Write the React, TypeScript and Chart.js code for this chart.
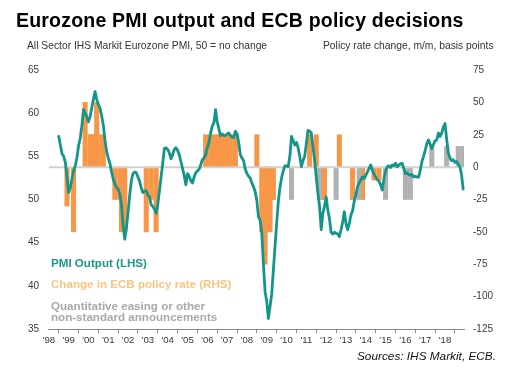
import React, { useEffect, useRef } from 'react';
import { Chart, registerables } from 'chart.js';

Chart.register(...registerables);

// ---------- DATA ----------
const firstYear = 1998;
const yearLabels = ["'98", "'99", "'00", "'01", "'02", "'03", "'04", "'05", "'06", "'07", "'08", "'09", "'10", "'11", "'12", "'13", "'14", "'15", "'16", "'17", "'18"];
const monthCount = 252; // Jan 1998 .. Dec 2018

// All Sector IHS Markit Eurozone PMI, monthly from Jul 1998 (month index 6)
const pmiStartMonth = 6;
const pmi1998 = [57.3, 56.3, 55.3, 55.0, 54.3, 52.6];
const pmi1999 = [50.8, 51.4, 52.4, 53.3, 53.9, 54.8, 56.2, 57.1, 58.5, 60.4, 60.0, 59.6];
const pmi2000 = [59.0, 59.6, 60.6, 61.6, 62.5, 61.6, 61.0, 60.6, 59.7, 58.6, 56.9, 55.6];
const pmi2001 = [54.8, 54.2, 53.2, 52.4, 51.8, 51.4, 51.2, 50.6, 49.4, 47.0, 45.4, 46.7];
const pmi2002 = [48.5, 50.5, 52.2, 53.0, 53.2, 53.1, 52.6, 52.1, 51.3, 50.8, 51.0, 51.0];
const pmi2003 = [50.5, 50.3, 49.4, 49.2, 48.9, 48.4, 49.4, 51.0, 52.6, 54.2, 55.9, 56.0];
const pmi2004 = [55.8, 55.4, 54.7, 55.2, 55.8, 56.0, 55.7, 55.2, 54.4, 53.6, 52.8, 51.7];
const pmi2005 = [53.0, 52.7, 52.2, 51.9, 52.6, 53.1, 53.3, 53.5, 54.0, 54.6, 54.8, 55.2];
const pmi2006 = [56.0, 56.6, 57.7, 58.5, 58.9, 60.4, 59.0, 58.2, 57.4, 57.6, 57.4, 57.4];
const pmi2007 = [57.6, 57.7, 57.4, 57.2, 57.2, 57.9, 57.6, 56.6, 55.2, 54.8, 54.5, 53.5];
const pmi2008 = [53.0, 52.7, 52.5, 51.9, 51.5, 50.9, 49.9, 48.0, 47.6, 46.1, 42.5, 39.3];
const pmi2009 = [38.2, 36.2, 37.6, 39.0, 41.8, 44.5, 47.2, 49.7, 51.4, 52.5, 53.3, 53.9];
const pmi2010 = [53.9, 53.8, 55.0, 57.3, 56.8, 56.3, 56.6, 56.0, 55.0, 53.8, 54.5, 55.0];
const pmi2011 = [56.5, 58.0, 57.9, 57.7, 56.1, 54.6, 52.6, 50.7, 49.2, 46.5, 48.4, 49.2];
const pmi2012 = [50.3, 48.8, 47.8, 46.2, 46.0, 46.2, 46.1, 46.0, 45.7, 46.5, 47.4, 48.6];
const pmi2013 = [47.2, 46.5, 47.2, 48.2, 48.7, 49.8, 50.5, 51.5, 51.9, 52.3, 52.6, 52.4];
const pmi2014 = [52.8, 53.2, 53.6, 54.0, 53.4, 52.9, 52.6, 52.3, 52.1, 51.7, 51.1, 52.4];
const pmi2015 = [53.3, 53.8, 53.9, 53.7, 54.0, 53.9, 54.2, 53.8, 54.0, 54.1, 54.2, 53.6];
const pmi2016 = [53.0, 53.1, 52.9, 52.8, 52.9, 52.6, 52.7, 52.6, 52.6, 53.4, 54.4, 55.0];
const pmi2017 = [55.7, 56.5, 56.9, 56.4, 55.9, 56.4, 56.8, 56.9, 57.7, 57.3, 57.7, 58.4];
const pmi2018 = [58.8, 57.0, 55.4, 54.8, 54.5, 54.6, 54.3, 54.4, 54.1, 53.8, 52.9, 51.2];

// Change in ECB policy rate (RHS), basis points, by month index (0 = Jan 1998)
const policyMonths = [11, 15, 22, 25, 26, 27, 29, 32, 33, 40, 43, 44, 46, 59, 62, 65, 95, 98, 101, 103, 105, 107, 110, 113, 126, 129, 130, 131, 132, 134, 135, 136, 158, 162, 166, 167, 176, 184, 190, 197, 200];
const policyChanges = [-30, -50, 50, 25, 25, 25, 50, 25, 25, -25, -25, -50, -50, -50, -25, -50, 25, 25, 25, 25, 25, 25, 25, 25, 25, -50, -50, -75, -50, -50, -25, -25, 25, 25, -25, -25, 25, -25, -25, -10, -10];

// Quantitative easing or other non-standard announcements
const qeMonths = [147, 164, 174, 188, 204, 216, 219, 232, 241, 248, 251];
const qeValues = [-25, -25, -25, -25, -25, -25, -25, 16, 16, 16, 16];

// ---------- STYLE ----------
const TEAL = '#13968a';
const ORANGE = '#f79646';
const GREY = '#b1b1b1';
const FONT = '"Liberation Sans", Arial, Helvetica, sans-serif';

function buildSeries() {
  const pmiAll = [pmi1998, pmi1999, pmi2000, pmi2001, pmi2002, pmi2003, pmi2004, pmi2005, pmi2006, pmi2007, pmi2008, pmi2009, pmi2010, pmi2011, pmi2012, pmi2013, pmi2014, pmi2015, pmi2016, pmi2017, pmi2018].flat();
  const labels: string[] = [];
  const pmi: (number | null)[] = [];
  const policy: (number | null)[] = [];
  const qe: (number | null)[] = [];
  const zero: number[] = [];
  for (let i = 0; i < monthCount; i++) {
    const y = firstYear + Math.floor(i / 12);
    const mo = (i % 12) + 1;
    labels.push(`${y}-${mo < 10 ? '0' : ''}${mo}`);
    const k = i - pmiStartMonth;
    pmi.push(k >= 0 && k < pmiAll.length ? pmiAll[k] : null);
    const pIdx = policyMonths.indexOf(i);
    policy.push(pIdx >= 0 ? policyChanges[pIdx] : null);
    const qIdx = qeMonths.indexOf(i);
    qe.push(qIdx >= 0 ? qeValues[qIdx] : null);
    zero.push(0);
  }
  return { labels, pmi, policy, qe, zero };
}

const textBase: React.CSSProperties = {
  position: 'absolute',
  fontFamily: FONT,
  lineHeight: 1,
  whiteSpace: 'nowrap',
  margin: 0,
};

export default function App() {
  const canvasRef = useRef<HTMLCanvasElement | null>(null);

  useEffect(() => {
    const canvas = canvasRef.current;
    if (!canvas) return;
    const s = buildSeries();
    const tickFont = { family: FONT, size: 10 };
    const chart = new Chart(canvas, {
      type: 'bar',
      data: {
        labels: s.labels,
        datasets: [
          {
            type: 'line',
            label: 'PMI Output (LHS)',
            data: s.pmi,
            yAxisID: 'y',
            borderColor: TEAL,
            backgroundColor: TEAL,
            borderWidth: 2.8,
            pointRadius: 0,
            tension: 0,
            borderJoinStyle: 'round',
            borderCapStyle: 'round',
            order: 0,
          } as any,
          {
            type: 'line',
            label: 'zero',
            data: s.zero,
            yAxisID: 'y1',
            borderColor: '#d2d2d2',
            borderWidth: 2,
            pointRadius: 0,
            order: 1,
          } as any,
          {
            type: 'bar',
            label: 'Quantitative easing or other non-standard announcements',
            data: s.qe,
            yAxisID: 'y1',
            backgroundColor: GREY,
            barThickness: 4.4,
            grouped: false,
            order: 2,
          } as any,
          {
            type: 'bar',
            label: 'Change in ECB policy rate (RHS)',
            data: s.policy,
            yAxisID: 'y1',
            backgroundColor: ORANGE,
            barThickness: 4.4,
            grouped: false,
            order: 3,
          } as any,
        ],
      },
      options: {
        responsive: false,
        maintainAspectRatio: false,
        animation: false,
        events: [],
        layout: { padding: { top: 70, left: 0, right: 0, bottom: 0 } },
        plugins: { legend: { display: false }, tooltip: { enabled: false }, title: { display: false } },
        scales: {
          x: {
            type: 'category',
            offset: true,
            grid: { display: true, drawOnChartArea: false, drawTicks: true, tickLength: 4, color: '#8a8a8a' },
            border: { display: true, color: '#8a8a8a', width: 1 },
            ticks: {
              autoSkip: false,
              maxRotation: 0,
              minRotation: 0,
              padding: 2,
              color: '#3a3a3a',
              font: { family: FONT, size: 9.6 },
              callback: (_v: any, i: number) => (i % 12 === 0 ? yearLabels[i / 12] : null),
            },
            afterFit: (scale: any) => { scale.height = 48; },
          },
          y: {
            type: 'linear',
            position: 'left',
            min: 35,
            max: 65,
            grid: { display: false, drawTicks: false },
            border: { display: false },
            ticks: { stepSize: 5, padding: 9, color: '#3a3a3a', font: tickFont },
            afterFit: (scale: any) => { scale.width = 48; },
          },
          y1: {
            type: 'linear',
            position: 'right',
            min: -125,
            max: 75,
            grid: { display: false, drawTicks: false },
            border: { display: false },
            ticks: { stepSize: 25, padding: 9, color: '#3a3a3a', font: tickFont },
            afterFit: (scale: any) => { scale.width = 51; },
          },
        },
      } as any,
    });
    return () => chart.destroy();
  }, []);

  return (
    <div style={{ position: 'fixed', left: 0, top: 0, width: 515, height: 377, background: '#fff', overflow: 'hidden' }}>
      <canvas ref={canvasRef} width={515} height={377} style={{ position: 'absolute', left: 0, top: 0, width: 515, height: 377 }} />
      <div style={{ ...textBase, left: 16, top: 10.8, fontSize: 19.5, fontWeight: 700, letterSpacing: '0.2px', color: '#000' }}>
        Eurozone PMI output and ECB policy decisions
      </div>
      <div style={{ ...textBase, left: 27, top: 40.6, fontSize: 10.3, color: '#333' }}>
        All Sector IHS Markit Eurozone PMI, 50 = no change
      </div>
      <div style={{ ...textBase, left: 323, top: 40.6, fontSize: 10.3, color: '#333' }}>
        Policy rate change, m/m, basis points
      </div>
      <div style={{ ...textBase, left: 51, top: 256.9, fontSize: 11.6, fontWeight: 700, color: '#1a9888' }}>
        PMI Output (LHS)
      </div>
      <div style={{ ...textBase, left: 51, top: 277.5, fontSize: 11.6, fontWeight: 700, color: '#f9c57f' }}>
        Change in ECB policy rate (RHS)
      </div>
      <div style={{ ...textBase, left: 51, top: 299.5, fontSize: 11.6, fontWeight: 700, color: '#a8a8a8' }}>
        Quantitative easing or other
      </div>
      <div style={{ ...textBase, left: 51, top: 311.2, fontSize: 11.6, fontWeight: 700, color: '#a8a8a8' }}>
        non-standard announcements
      </div>
      <div style={{ ...textBase, left: 357, top: 350.5, fontSize: 11.8, fontStyle: 'italic', color: '#111' }}>
        Sources: IHS Markit, ECB.
      </div>
    </div>
  );
}
